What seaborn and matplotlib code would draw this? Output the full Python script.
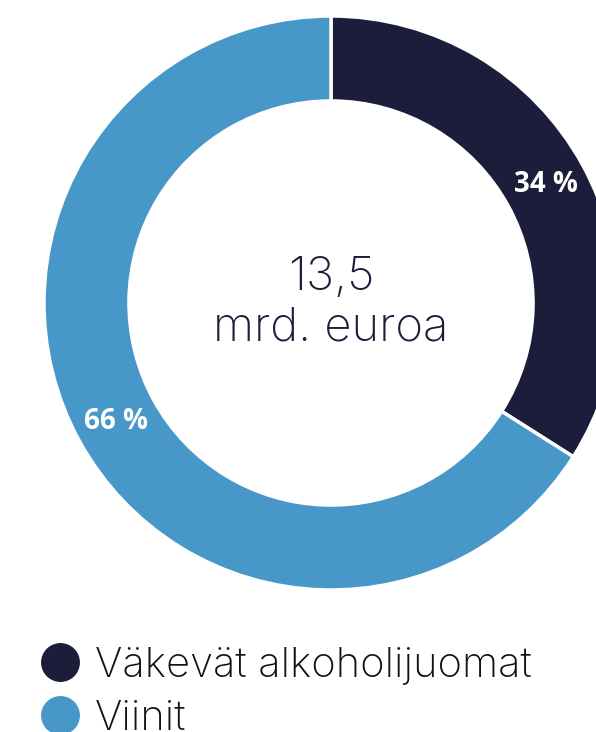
import matplotlib
matplotlib.use("Agg")
import matplotlib.pyplot as plt
from matplotlib.lines import Line2D
import seaborn as sns

# Data
categories = ["Väkevät alkoholijuomat", "Viinit"]
shares = [34, 66]
total_label = "13,5\nmrd. euroa"
colors = ["#1c1d3b", "#4798c9"]

sns.set_theme(style="white")
plt.rcParams["font.family"] = ["Inter", "DejaVu Sans"]

fig = plt.figure(figsize=(5.96, 7.32), dpi=100)

# donut axes, centre ~ (331, 303) px, radius ~287 px
cx, cy, r = 331, 303, 287
ax = fig.add_axes([(cx - r) / 596, (732 - cy - r) / 732, 2 * r / 596, 2 * r / 732])

wedges, texts, autotexts = ax.pie(
    shares,
    colors=colors,
    startangle=90,
    counterclock=False,
    radius=1,
    autopct=lambda p: f"{p:.0f} %",
    pctdistance=0.855,
    wedgeprops=dict(width=0.296, edgecolor="white", linewidth=2.5),
    textprops=dict(color="white", fontsize=20, fontweight="bold",
                   family=["Open Sans", "DejaVu Sans"]),
)
ax.set_xlim(-1, 1)
ax.set_ylim(-1, 1)
ax.set_aspect("equal")
ax.axis("off")

ax.text(0, 0, total_label, ha="center", va="center", fontsize=34,
        color="#1c1d3b", fontweight="light", linespacing=1.2)

handles = [Line2D([0], [0], marker="o", linestyle="", markersize=27,
                  markerfacecolor=c, markeredgecolor=c) for c in colors]
fig.legend(handles, categories, loc="upper left",
           bbox_to_anchor=(39 / 596, 1 - 647 / 732), frameon=False,
           handletextpad=0.34, labelspacing=0.36,
           handlelength=1.0, borderaxespad=0, borderpad=0,
           labelcolor="#111111",
           prop=dict(family=["Inter", "DejaVu Sans"], weight="light", size=30))

fig.savefig("out.png", dpi=100)
